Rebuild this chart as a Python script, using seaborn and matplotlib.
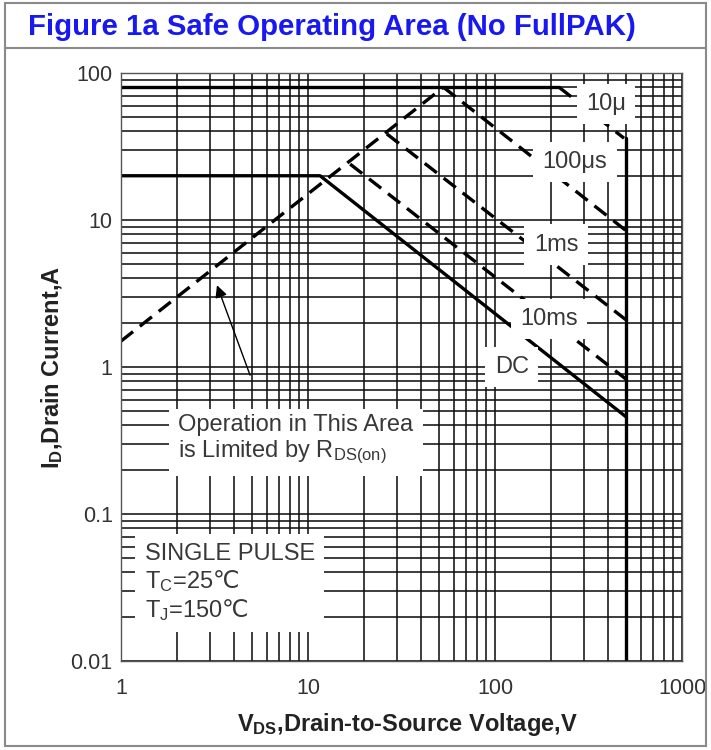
import numpy as np
import pandas as pd
import matplotlib
matplotlib.use("Agg")
import matplotlib.pyplot as plt
from matplotlib.ticker import FixedLocator, FixedFormatter, LogLocator, NullFormatter
from matplotlib.patches import Rectangle
from matplotlib.lines import Line2D
import seaborn as sns

# ---------------- data ----------------
rds_v = [1.0, 53.0]          # R_DS(on) limit (dashed)
rds_i = [1.5, 80.0]
idm_v = [1.0, 220.0]         # pulsed current limit (solid)
idm_i = [80.0, 80.0]
us10_v = [220.0, 490.0]      # 10 us
us10_i = [80.0, 36.0]
bv_v = [500.0, 500.0]        # BVDSS limit
bv_i = [36.0, 0.01]
us100_v = [53.0, 500.0]      # 100 us
us100_i = [80.0, 8.5]
ms1_v = [26.4, 500.0]        # 1 ms
ms1_i = [38.5, 2.1]
ms10_v = [16.8, 500.0]       # 10 ms
ms10_i = [24.0, 0.83]
dc_v = [1.0, 11.6, 500.0]    # DC
dc_i = [20.0, 20.0, 0.46]

x_ticks = [1, 10, 100, 1000]
x_tick_labels = ["1", "10", "100", "1000"]
y_ticks = [0.01, 0.1, 1, 10, 100]
y_tick_labels = ["0.01", "0.1", "1", "10", "100"]

curve_labels = ["10\u03bc", "100\u03bcs", "1ms", "10ms", "DC"]
curve_label_v = [392, 268, 212, 194, 123]
curve_label_i = [61.5, 24.8, 6.8, 2.12, 1.0]

title = "Figure 1a Safe Operating Area (No FullPAK)"
xlabel = "V$_{DS}$,Drain-to-Source Voltage,V"
ylabel = "I$_{D}$,Drain Current,A"
note1 = "Operation in This Area\nis Limited by R$_{DS(on)}$"
note2 = "SINGLE PULSE\nT$_{C}$=25$\\mathrm{\u2103}$\nT$_{J}$=150$\\mathrm{\u2103}$"

# ---------------- style ----------------
sns.set_theme(style="white")
plt.rcParams["font.family"] = ["Liberation Sans", "DejaVu Sans"]
plt.rcParams["mathtext.default"] = "regular"

fig = plt.figure(figsize=(7.11, 7.5), dpi=100)
ax = fig.add_axes([121 / 711, 1 - 661 / 750, (682 - 121) / 711, (661 - 73) / 750])

ax.set_xscale("log")
ax.set_yscale("log")
ax.set_xlim(1, 1000)
ax.set_ylim(0.01, 100)

# grid: every 1..9 x decade
ax.xaxis.set_major_locator(FixedLocator(x_ticks))
ax.xaxis.set_major_formatter(FixedFormatter(x_tick_labels))
ax.yaxis.set_major_locator(FixedLocator(y_ticks))
ax.yaxis.set_major_formatter(FixedFormatter(y_tick_labels))
ax.xaxis.set_minor_locator(LogLocator(base=10, subs=np.arange(2, 10)))
ax.yaxis.set_minor_locator(LogLocator(base=10, subs=np.arange(2, 10)))
ax.xaxis.set_minor_formatter(NullFormatter())
ax.yaxis.set_minor_formatter(NullFormatter())
ax.grid(which="both", color="#111111", lw=1.15)
ax.set_axisbelow(True)
ax.tick_params(which="both", length=0, labelsize=15.5, labelcolor="#333333")
ax.tick_params(axis="x", pad=12)
ax.tick_params(axis="y", pad=6)
for s in ax.spines.values():
    s.set_color("#555555")
    s.set_linewidth(1.0)

LW = 2.4
dash = (0, (4.6, 2.6))


def draw(v, i, ls):
    df = pd.DataFrame({"v": v, "i": i})
    sns.lineplot(data=df, x="v", y="i", ax=ax, color="black", lw=LW,
                 linestyle=ls, sort=False, estimator=None, legend=False,
                 zorder=2)


draw(rds_v, rds_i, dash)
draw(idm_v, idm_i, "-")
draw(us10_v, us10_i, dash)
draw(bv_v, bv_i, "-")
draw(us100_v, us100_i, dash)
draw(ms1_v, ms1_i, dash)
draw(ms10_v, ms10_i, dash)
draw(dc_v, dc_i, "-")

# curve labels with white masks
for txt, v, i in zip(curve_labels, curve_label_v, curve_label_i):
    ax.text(v, i, txt, fontsize=17, color="#383838", ha="center", va="center",
            zorder=4,
            bbox=dict(facecolor="white", edgecolor="none",
                      boxstyle="square,pad=0.4"))

# notes
ax.text(2.02, 0.318, note1,
        fontsize=17, color="#383838", ha="left", va="center",
        linespacing=1.15, zorder=4,
        bbox=dict(facecolor="white", edgecolor="none",
                  boxstyle="square,pad=0.4"))
ax.text(1.34, 0.034, note2,
        fontsize=17, color="#383838", ha="left", va="center",
        linespacing=1.15, zorder=4,
        bbox=dict(facecolor="white", edgecolor="none",
                  boxstyle="square,pad=0.4"))

ax.annotate("", xy=(3.26, 3.6), xytext=(4.9, 0.88),
            arrowprops=dict(arrowstyle="-|>", color="black", lw=1.0,
                            mutation_scale=18, shrinkA=0, shrinkB=0),
            zorder=5)

ax.set_xlabel(xlabel, fontsize=17, fontweight="bold", color="#222222",
              labelpad=8)
ax.set_ylabel(ylabel, fontsize=17, fontweight="bold", color="#222222",
              labelpad=4)
ax.xaxis.set_label_coords(0.51, -0.085)

# figure frame and title
fig.patches.append(Rectangle((5 / 711, 4 / 750), 701 / 711, 743 / 750,
                             transform=fig.transFigure, fill=False,
                             edgecolor="#8a8a8a", lw=1.5))
fig.lines.append(Line2D([5 / 711, 706 / 711], [1 - 48 / 750, 1 - 48 / 750],
                        transform=fig.transFigure, color="#8a8a8a", lw=1.5))
fig.text(28 / 711, 1 - 27 / 750, title, fontsize=21.2, fontweight="bold",
         color="#1818f0", ha="left", va="center")

fig.savefig("out.png", dpi=100)
